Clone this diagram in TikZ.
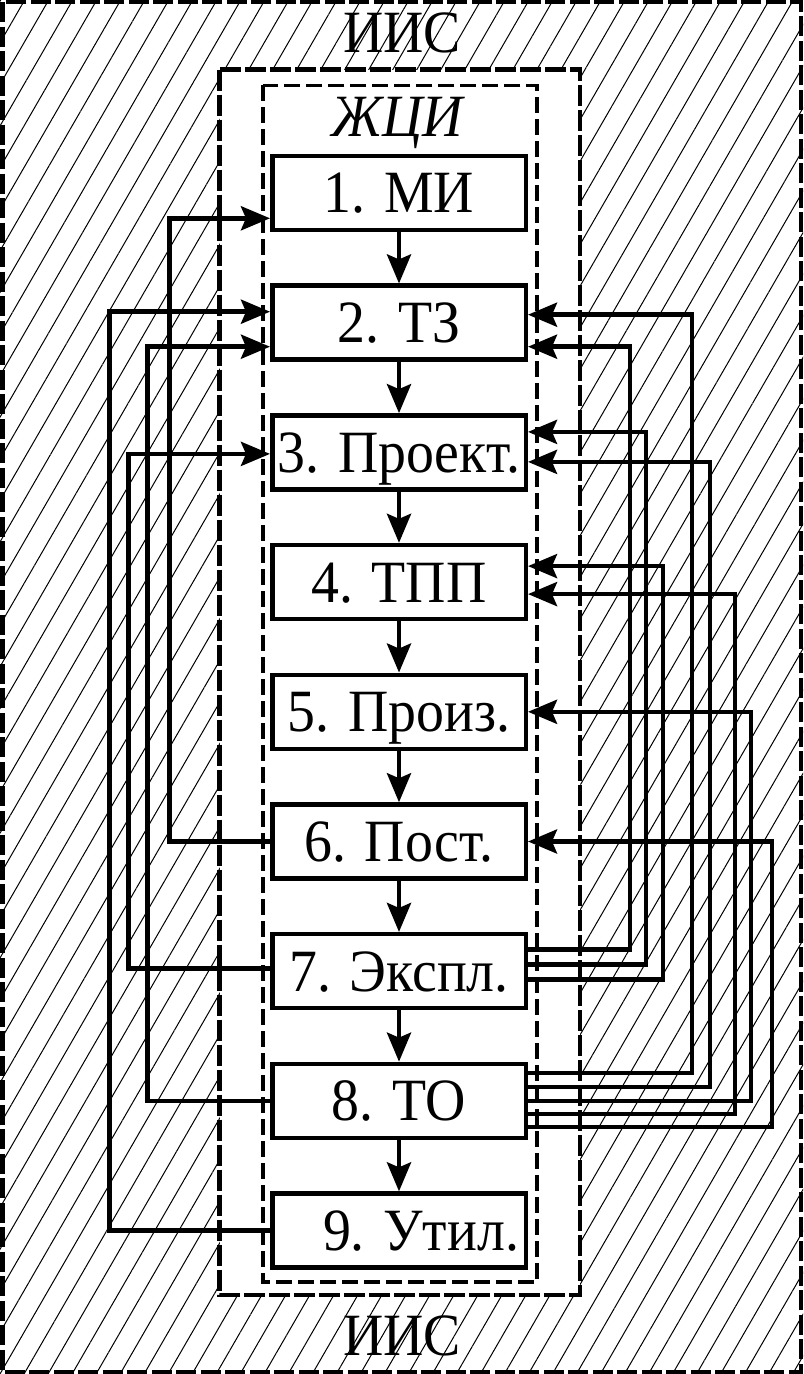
\documentclass[tikz,border=0pt]{standalone}
\usepackage{fontspec}
\setmainfont{Liberation Serif}[FakeStretch=0.93]
\usetikzlibrary{positioning, arrows.meta, patterns.meta}

\begin{document}
\begin{tikzpicture}[x=0.5pt, y=0.5pt,
    stage/.style={rectangle, draw, line width=2.25pt, minimum width=126.75pt, minimum height=37pt, inner sep=0pt, text height=19.9pt, text depth=0pt, font=\fontsize{30pt}{32pt}\selectfont},
    title/.style={inner sep=0pt, anchor=base, font=\fontsize{30pt}{32pt}\selectfont},
    link/.style={draw, line width=2.25pt, -{Stealth[length=14.5pt, width=12pt, inset=2.5pt]}},
    hatch/.style={pattern={Lines[angle=60, distance=10.4pt, line width=0.5pt]}},
    outer/.style={draw, line width=2.25pt, dash pattern=on 10pt off 2.25pt},
    system/.style={draw, line width=2.25pt, dash pattern=on 10.5pt off 2pt, fill=white},
    cycle/.style={draw, line width=1.75pt, dash pattern=on 8pt off 3pt}]

  \useasboundingbox (0,0) rectangle (803,-1374);
  \fill[white] (0,0) rectangle (803,-1374);
  \fill[hatch] (0,0) rectangle (803,-1374);
  \draw[outer] (2.25,-2.25) rectangle (800.75,-1371.75);
  \draw[system] (219.7,-69.7) rectangle (580,-1295);
  \draw[cycle] (263,-85.3) rectangle (537,-1282);

  \node[title] (iisTop) at (402,-53) {ИИС};
  \node[title] (iisBottom) at (402,-1355) {ИИС};
  \node[title, font=\fontsize{30pt}{32pt}\selectfont\itshape] (zci) at (397,-137) {ЖЦИ};

  % stages
  \node[stage] (b1) at (399,-193) {1. МИ};
  \node[stage, below = 25.6pt of b1] (b2) {2. ТЗ};
  \node[stage, below = 25.6pt of b2] (b3) {3. Проект.};
  \node[stage, below = 25.6pt of b3] (b4) {4. ТПП};
  \node[stage, below = 25.6pt of b4] (b5) {5. Произ.};
  \node[stage, below = 25.6pt of b5] (b6) {6. Пост.};
  \node[stage, below = 25.6pt of b6] (b7) {7. Экспл.};
  \node[stage, below = 25.6pt of b7] (b8) {8. ТО};
  \node[stage, below = 25.6pt of b8] (b9) {\hspace*{22pt}9. Утил.};

  \draw[link] (b1) -- (b2);
  \draw[link] (b2) -- (b3);
  \draw[link] (b3) -- (b4);
  \draw[link] (b4) -- (b5);
  \draw[link] (b5) -- (b6);
  \draw[link] (b6) -- (b7);
  \draw[link] (b7) -- (b8);
  \draw[link] (b8) -- (b9);

  % feedback, left side
  \draw[link] (b6.west) -- ++(-100.75,0) |- ([yshift=-12.65pt]b1.west);
  \draw[link] (b9.west) -- ++(-160.75,0) |- ([yshift=5.5pt]b2.west);
  \draw[link] (b8.west) -- ++(-122.75,0) |- ([yshift=-12pt]b2.west);
  \draw[link] ([yshift=1.25pt]b7.west) -- ++(-141.75,0) |- ([yshift=-0.75pt]b3.west);

  % feedback, right side
  \draw[link] ([yshift=14pt]b8.east) -- ++(164,0) |- ([yshift=4pt]b2.east);
  \draw[link] ([yshift=10.75pt]b7.east) -- ++(102,0) |- ([yshift=-12pt]b2.east);
  \draw[link] ([yshift=3.25pt]b7.east) -- ++(118,0) |- ([yshift=10.25pt]b3.east);
  \draw[link] ([yshift=7pt]b8.east) -- ++(182,0) |- ([yshift=-4.75pt]b3.east);
  \draw[link] ([yshift=-4.25pt]b7.east) -- ++(135,0) |- ([yshift=8pt]b4.east);
  \draw[link] ([yshift=-6.5pt]b8.east) -- ++(207,0) |- ([yshift=-6pt]b4.east);
  \draw[link] (b8.east) -- ++(223,0) |- (b5.east);
  \draw[link] ([yshift=-13pt]b8.east) -- ++(244,0) |- (b6.east);

\end{tikzpicture}
\end{document}
